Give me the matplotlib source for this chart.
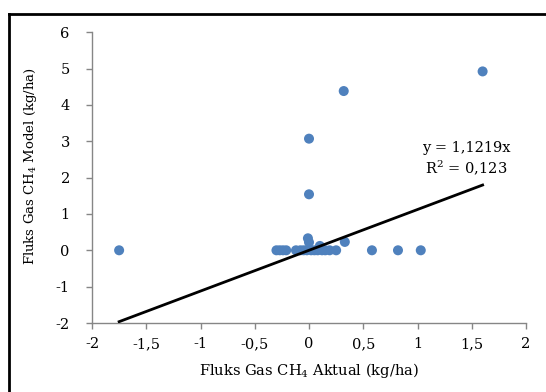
#!/usr/bin/env python3
"""Scatter of modelled vs actual CH4 flux with a zero-intercept trendline."""

import matplotlib

matplotlib.use("Agg")
import matplotlib.pyplot as plt
from matplotlib.lines import Line2D
from matplotlib.ticker import FuncFormatter, MultipleLocator

# data
flux_actual = [-1.75, 1.60, 0.32, 0.00, 0.00, 0.33, 0.58, 0.82, 1.03,
               -0.01, 0.00, 0.10,
               -0.30, -0.27, -0.24, -0.21, -0.12, -0.08, -0.05, -0.02,
               0.02, 0.05, 0.08, 0.12, 0.15, 0.19, 0.25]
flux_model = [0.00, 4.92, 4.38, 3.07, 1.54, 0.23, 0.00, 0.00, 0.00,
              0.33, 0.22, 0.12,
              0.00, 0.00, 0.00, 0.00, 0.00, 0.00, 0.00, 0.00,
              0.00, 0.00, 0.00, 0.00, 0.00, 0.00, 0.00]
slope = 1.1219
r_squared = 0.123

FONT = "DejaVu Serif"
AXIS_GREY = "#868686"
DOT_BLUE = "#4f81bd"

plt.rcParams["mathtext.fontset"] = "dejavuserif"


def comma(v, _pos):
    s = f"{v:g}"
    return s.replace(".", ",")


fig = plt.figure(figsize=(5.46, 3.92), dpi=100)
ax = fig.add_axes([0.1685, 0.176, 0.7949, 0.742])

ax.scatter(flux_actual, flux_model, s=52, color=DOT_BLUE, edgecolors="none", zorder=3)

x0, x1 = min(flux_actual), max(flux_actual)
ax.plot([x0, x1], [slope * x0, slope * x1], color="black", lw=2, zorder=4)

ax.text(1.45, 2.80, f"y = {slope:g}x".replace(".", ","), ha="center", va="center",
        family=FONT, fontsize=10.5)
ax.text(1.45, 2.28, f"R$^2$ = {r_squared:g}".replace(".", ","), ha="center",
        va="center", family=FONT, fontsize=10.5)

ax.set_xlim(-2, 2)
ax.set_ylim(-2, 6)
ax.xaxis.set_major_locator(MultipleLocator(0.5))
ax.yaxis.set_major_locator(MultipleLocator(1))
ax.xaxis.set_major_formatter(FuncFormatter(comma))
ax.yaxis.set_major_formatter(FuncFormatter(comma))

for side in ("top", "right"):
    ax.spines[side].set_visible(False)
for side in ("left", "bottom"):
    ax.spines[side].set_color(AXIS_GREY)
    ax.spines[side].set_linewidth(1)
ax.tick_params(direction="out", length=4, width=1, color=AXIS_GREY, labelsize=10.5)
ax.tick_params(axis="x", pad=6)
ax.tick_params(axis="y", pad=12)
for lab in ax.get_xticklabels() + ax.get_yticklabels():
    lab.set_family(FONT)

ax.set_xlabel("Fluks Gas CH$_4$ Aktual (kg/ha)", family=FONT, fontsize=10.5)
ax.set_ylabel("Fluks Gas CH$_4$ Model (kg/ha)", family=FONT, fontsize=9.5)
ax.xaxis.set_label_coords(0.5, -0.132)
ax.yaxis.set_label_coords(-0.122, 0.54)

# outer chart frame (left and top edges only are visible in the crop)
fx, fy = 8.5 / 546, 1 - 13.5 / 392
fig.add_artist(Line2D([fx, fx], [0, fy], transform=fig.transFigure, color="black", lw=2))
fig.add_artist(Line2D([fx, 1], [fy, fy], transform=fig.transFigure, color="black", lw=2))

fig.savefig("out.png", dpi=100)
plt.close(fig)
